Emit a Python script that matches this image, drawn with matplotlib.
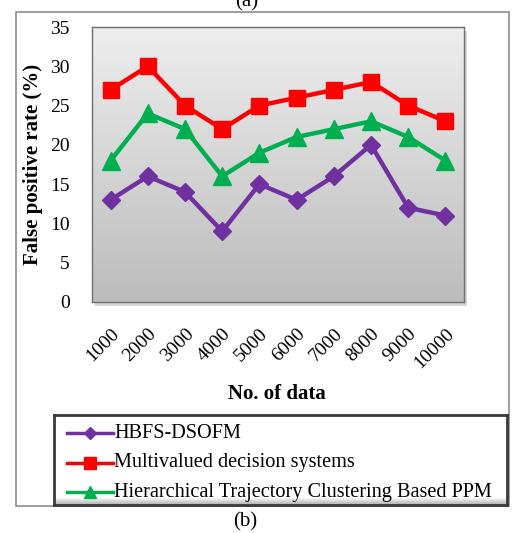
import numpy as np
import matplotlib
matplotlib.use("Agg")
import matplotlib.pyplot as plt
from matplotlib.patches import Rectangle
from matplotlib.lines import Line2D
from matplotlib.colors import LinearSegmentedColormap

categories = ["1000", "2000", "3000", "4000", "5000", "6000", "7000", "8000", "9000", "10000"]
hbfs = [13, 16, 14, 9, 15, 13, 16, 20, 12, 11]
multivalued = [27, 30, 25, 22, 25, 26, 27, 28, 25, 23]
htc_ppm = [18, 24, 22, 16, 19, 21, 22, 23, 21, 18]
series_names = ["HBFS-DSOFM", "Multivalued decision systems",
                "Hierarchical Trajectory Clustering Based PPM"]
colors = ['#7030a0', '#ff0000', '#00b050']
markers = ['D', 's', '^']

W, H = 515, 533
plt.rcParams['font.family'] = ['Liberation Serif', 'DejaVu Serif']
fig = plt.figure(figsize=(W / 100, H / 100), dpi=100)

def fx(x): return x / W
def fy(y): return 1 - y / H

# outer frame
fig.patches.append(Rectangle((fx(16), fy(506)), fx(509) - fx(16), fy(12) - fy(506),
                             transform=fig.transFigure, fill=False, edgecolor='#8c8c8c',
                             lw=1.2, zorder=0))

# plot area
x0, x1, y0, y1 = 92, 464, 27, 302
fig.patches.append(Rectangle((fx(x0 + 3), fy(y1 + 4)), fx(x1) - fx(x0), fy(y0) - fy(y1),
                             transform=fig.transFigure, facecolor='#d4d4d4',
                             edgecolor='none', zorder=0))
ax = fig.add_axes([fx(x0), fy(y1), fx(x1) - fx(x0), fy(y0) - fy(y1)])
ax.set_zorder(1)
ax.set_xlim(-0.5, len(categories) - 0.5)
ax.set_ylim(0, 35)
grad = np.linspace(0, 1, 256).reshape(-1, 1)
cmap = LinearSegmentedColormap.from_list('g', ['#bcbcbc', '#eeeeee'])
ax.imshow(grad, extent=(-0.5, len(categories) - 0.5, 0, 35), origin='lower',
          aspect='auto', cmap=cmap, zorder=0)
for s in ax.spines.values():
    s.set_edgecolor('#6e6e6e')
    s.set_linewidth(1.0)

xs = np.arange(len(categories))
ax.plot(xs, hbfs, color=colors[0], marker='D', ms=9, lw=3.2, zorder=3)
ax.plot(xs, multivalued, color=colors[1], marker='s', ms=12, lw=3.2, zorder=3)
ax.plot(xs, htc_ppm, color=colors[2], marker='^', ms=13, lw=3.2, zorder=3)

ax.set_yticks(range(0, 36, 5))
ax.set_yticklabels([str(v) for v in range(0, 36, 5)], fontsize=14)
ax.set_xticks(xs)
ax.set_xticklabels(categories, fontsize=14, rotation=45, ha='right', va='top',
                   rotation_mode='anchor')
ax.tick_params(length=0, pad=16, axis='y')
ax.tick_params(length=0, pad=17, axis='x')

fig.text(fx(33), fy(164), "False positive rate (%)", rotation=90, fontsize=15,
         fontweight='bold', ha='center', va='center')
fig.text(fx(277), fy(394), "No. of data", fontsize=15, fontweight='bold',
         ha='center', va='center')
fig.text(fx(247), fy(2), "(a)", fontsize=15, ha='center', va='center')
fig.text(fx(245), fy(522), "(b)", fontsize=15, ha='center', va='center')

# legend box with subtle bevel
lx0, lx1, ly0, ly1 = 54, 507, 415, 505
lax = fig.add_axes([fx(lx0), fy(ly1), fx(lx1) - fx(lx0), fy(ly0) - fy(ly1)])
lax.set_zorder(2)
lax.set_xlim(0, 1)
lax.set_ylim(0, 1)
lax.set_xticks([])
lax.set_yticks([])
bev = np.ones((90, 1))
bev[-8:, 0] = np.linspace(1, 0.75, 8)
bev[:3, 0] = np.linspace(0.85, 1, 3)
lcmap = LinearSegmentedColormap.from_list('l', ['#b0b0b0', '#ffffff'])
lax.imshow(bev, extent=(0, 1, 0, 1), origin='upper', aspect='auto', cmap=lcmap,
           vmin=0.75, vmax=1, zorder=0)
for s in lax.spines.values():
    s.set_edgecolor('#3a3a3a')
    s.set_linewidth(2.0)

ys = [433, 463, 492]
msz = [6, 8, 8]
for c, m, ms, yy, name in zip(colors, markers, msz, ys, series_names):
    fig.add_artist(Line2D([fx(67), fx(113)], [fy(yy), fy(yy)], transform=fig.transFigure,
                          color=c, lw=2.5, zorder=3))
    fig.add_artist(Line2D([fx(90)], [fy(yy)], transform=fig.transFigure,
                          color=c, marker=m, ms=ms, lw=0, zorder=3))
    fig.text(fx(114), fy(yy), name, fontsize=14.6, ha='left', va='center', zorder=4)

fig.savefig("out.png", dpi=100)
